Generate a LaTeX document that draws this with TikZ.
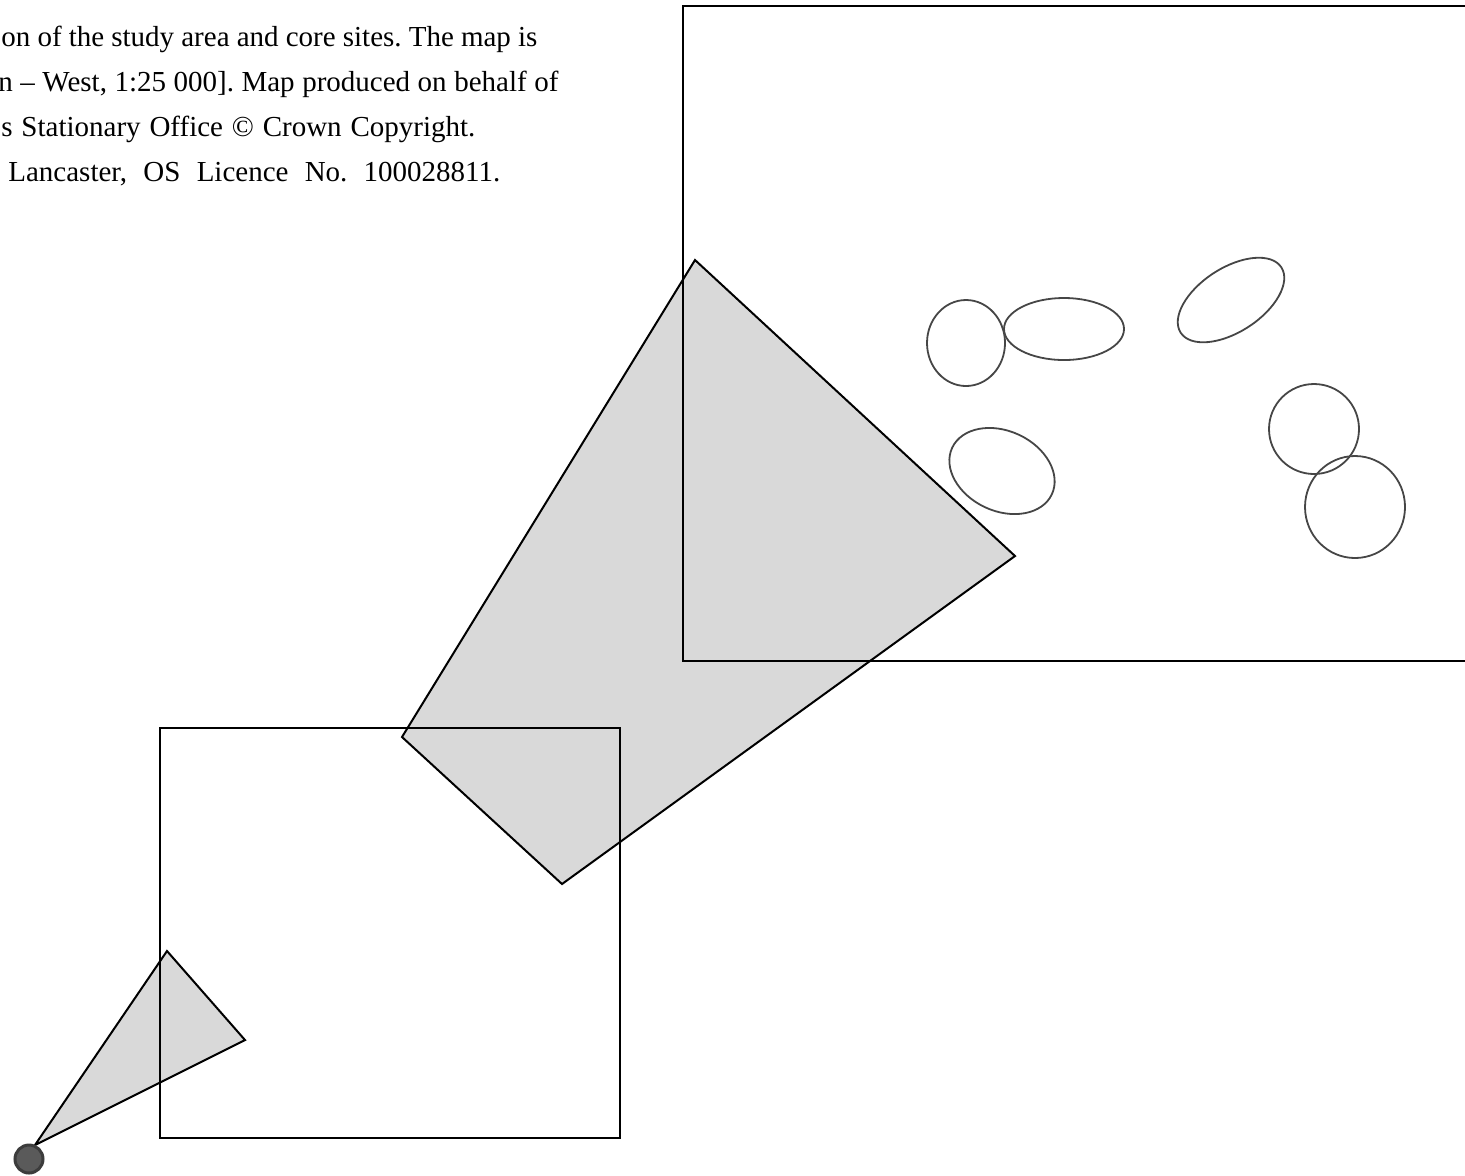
\documentclass[tikz,border=0pt]{standalone}
\usepackage{fontspec}
\setmainfont{Liberation Serif}
\frenchspacing
\definecolor{wedgegray}{HTML}{D9D9D9}
\definecolor{siteline}{HTML}{464646}
\definecolor{dotfill}{HTML}{5A5A5A}
\definecolor{dotline}{HTML}{3C3C3C}
\begin{document}
\begin{tikzpicture}[x=0.5pt,y=-0.5pt,
  caption/.style={anchor=base west,inner sep=0pt,font=\fontsize{14.5}{17}\selectfont},
  wedge/.style={draw=black,line width=1pt,fill=wedgegray},
  frame/.style={draw=black,line width=1pt},
  site/.style={draw=siteline,line width=0.9pt}]

% Page size (frames run off the right edge)
\clip (0,0) rectangle (1465,1175);

% Caption, cut off at the left (justified lines)
\node[caption] (capa) at (1,46) {\makebox[268pt][s]{on of the study area and core sites. The map is}};
\node[caption] (capb) at (-2,91) {\makebox[280pt][s]{n -- West, 1:25 000]. Map produced on behalf of}};
\node[caption] (capc) at (1,136) {\makebox[237pt][s]{s Stationary Office \textcopyright{} Crown Copyright.}};
\node[caption] (capd) at (8,181) {\makebox[246pt][s]{Lancaster, OS Licence No. 100028811.}};

% Zoom wedges
\draw[wedge] (35,1145) -- (167,951) -- (245,1040) -- cycle;
\draw[wedge] (402,737) -- (695,260) -- (1015,556) -- (562,884) -- cycle;

% Map frames
\draw[frame] (160,728) rectangle (620,1138);
\draw[frame] (683,6) rectangle (1480,661);

% Core sites
\draw[site] (966,343) ellipse [x radius=39, y radius=43];
\draw[site] (1064,329) ellipse [x radius=60, y radius=31];
\draw[site, rotate around={33:(1231,300)}] (1231,300) ellipse [x radius=60, y radius=32];
\draw[site, rotate around={-25:(1002,471)}] (1002,471) ellipse [x radius=55, y radius=40];
\draw[site] (1314,429) ellipse [x radius=45, y radius=45];
\draw[site] (1355,507) ellipse [x radius=50, y radius=51];

% Location dot
\draw[draw=dotline,fill=dotfill,line width=1.5pt] (29,1159) circle [radius=14];

\end{tikzpicture}
\end{document}
